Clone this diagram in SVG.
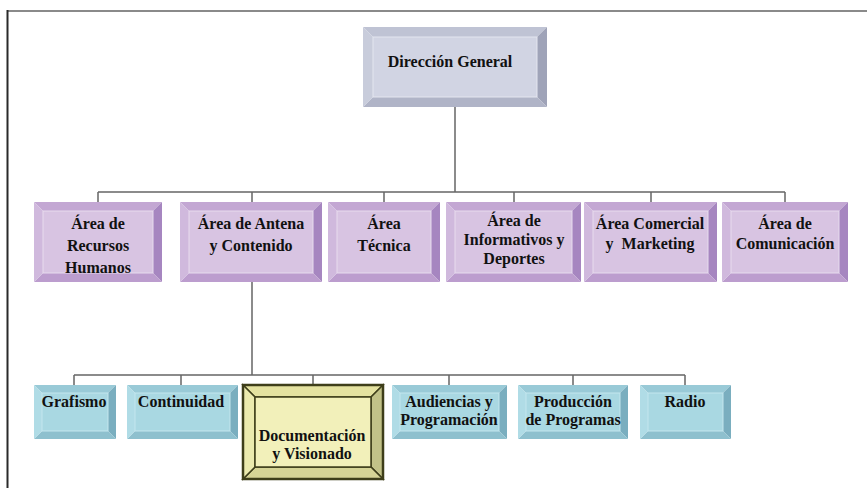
<svg xmlns="http://www.w3.org/2000/svg" width="867" height="488" viewBox="0 0 867 488">
<style>
.t{font-family:"Liberation Serif","Times New Roman",serif;font-weight:bold;font-size:16px;fill:#111;text-anchor:middle}
.c{stroke:#666;stroke-width:1.5;fill:none}
.gT{fill:#bfc3d4}.gR{fill:#9fa3b8}.gB{fill:#b0b4c7}.gL{fill:#c8ccdb}.gF{fill:#d1d4e3;stroke:#e4e6ef;stroke-width:1}
.pT{fill:#c3a7d3}.pR{fill:#a686c0}.pB{fill:#bc9dce}.pL{fill:#d0b9dd}.pF{fill:#d8c4e2;stroke:#e7dcee;stroke-width:1}
.bT{fill:#99cad7}.bR{fill:#7aaebf}.bB{fill:#8ec0ce}.bL{fill:#b0dce6}.bF{fill:#a9d8e2;stroke:#c4e6ee;stroke-width:1}
.yT{fill:#e4e2a0;stroke:#3e3e1a;stroke-width:1.5}.yR{fill:#c2c288;stroke:#3e3e1a;stroke-width:1.5}.yB{fill:#d6d496;stroke:#3e3e1a;stroke-width:1.5}.yL{fill:#ebeaae;stroke:#3e3e1a;stroke-width:1.5}.yF{fill:#f2f0ba;stroke:#3e3e1a;stroke-width:1.5}
</style>
<rect x="0" y="0" width="867" height="488" fill="#ffffff"/>
<g id="frame">
<line x1="7" y1="11" x2="867" y2="11" stroke="#8a8a8a" stroke-width="2"/>
<line x1="7.5" y1="10" x2="7.5" y2="488" stroke="#2a2a2a" stroke-width="2"/>
</g>
<g id="connectors">
<path class="c" d="M455 107V192M98 192H785M98 192V202M252 192V202M384 192V202M514 192V202M651 192V202M785 192V202"/>
<path class="c" d="M252 282V375M74 375H685M74 375V385M181 375V385M313 375V385M449 375V385M573 375V385M685 375V385"/>
</g>
<g id="direccion-general">
<polygon class="gT" points="363,27 547,27 537,37 373,37"/>
<polygon class="gR" points="547,27 547,107 537,97 537,37"/>
<polygon class="gB" points="363,107 547,107 537,97 373,97"/>
<polygon class="gL" points="363,27 363,107 373,97 373,37"/>
<rect class="gF" x="373" y="37" width="164" height="60"/>
<text class="t" x="450" y="67">Dirección General</text>
</g>
<g id="recursos-humanos">
<polygon class="pT" points="34,202 162,202 153,211 43,211"/>
<polygon class="pR" points="162,202 162,282 153,273 153,211"/>
<polygon class="pB" points="34,282 162,282 153,273 43,273"/>
<polygon class="pL" points="34,202 34,282 43,273 43,211"/>
<rect class="pF" x="43" y="211" width="110" height="62"/>
<text class="t" x="98" y="229">Área de</text>
<text class="t" x="98" y="251">Recursos</text>
<text class="t" x="98" y="273">Humanos</text>
</g>
<g id="antena-contenido">
<polygon class="pT" points="180,202 322,202 313,211 189,211"/>
<polygon class="pR" points="322,202 322,282 313,273 313,211"/>
<polygon class="pB" points="180,282 322,282 313,273 189,273"/>
<polygon class="pL" points="180,202 180,282 189,273 189,211"/>
<rect class="pF" x="189" y="211" width="124" height="62"/>
<text class="t" x="251" y="229">Área de Antena</text>
<text class="t" x="251" y="251">y Contenido</text>
</g>
<g id="tecnica">
<polygon class="pT" points="328,202 440,202 431,211 337,211"/>
<polygon class="pR" points="440,202 440,282 431,273 431,211"/>
<polygon class="pB" points="328,282 440,282 431,273 337,273"/>
<polygon class="pL" points="328,202 328,282 337,273 337,211"/>
<rect class="pF" x="337" y="211" width="94" height="62"/>
<text class="t" x="384" y="229">Área</text>
<text class="t" x="384" y="251">Técnica</text>
</g>
<g id="informativos-deportes">
<polygon class="pT" points="446,202 581,202 572,211 455,211"/>
<polygon class="pR" points="581,202 581,282 572,273 572,211"/>
<polygon class="pB" points="446,282 581,282 572,273 455,273"/>
<polygon class="pL" points="446,202 446,282 455,273 455,211"/>
<rect class="pF" x="455" y="211" width="117" height="62"/>
<text class="t" x="514" y="226">Área de</text>
<text class="t" x="514" y="245">Informativos y</text>
<text class="t" x="514" y="264">Deportes</text>
</g>
<g id="comercial-marketing">
<polygon class="pT" points="584,202 717,202 708,211 593,211"/>
<polygon class="pR" points="717,202 717,282 708,273 708,211"/>
<polygon class="pB" points="584,282 717,282 708,273 593,273"/>
<polygon class="pL" points="584,202 584,282 593,273 593,211"/>
<rect class="pF" x="593" y="211" width="115" height="62"/>
<text class="t" x="650" y="229">Área Comercial</text>
<text class="t" x="650" y="249" xml:space="preserve">y  Marketing</text>
</g>
<g id="comunicacion">
<polygon class="pT" points="722,202 848,202 839,211 731,211"/>
<polygon class="pR" points="848,202 848,282 839,273 839,211"/>
<polygon class="pB" points="722,282 848,282 839,273 731,273"/>
<polygon class="pL" points="722,202 722,282 731,273 731,211"/>
<rect class="pF" x="731" y="211" width="108" height="62"/>
<text class="t" x="785" y="229">Área de</text>
<text class="t" x="785" y="249">Comunicación</text>
</g>
<g id="grafismo">
<polygon class="bT" points="34,385 116,385 108,393 42,393"/>
<polygon class="bR" points="116,385 116,439 108,431 108,393"/>
<polygon class="bB" points="34,439 116,439 108,431 42,431"/>
<polygon class="bL" points="34,385 34,439 42,431 42,393"/>
<rect class="bF" x="42" y="393" width="66" height="38"/>
<text class="t" x="74" y="407">Grafismo</text>
</g>
<g id="continuidad">
<polygon class="bT" points="127,385 238,385 230,393 135,393"/>
<polygon class="bR" points="238,385 238,439 230,431 230,393"/>
<polygon class="bB" points="127,439 238,439 230,431 135,431"/>
<polygon class="bL" points="127,385 127,439 135,431 135,393"/>
<rect class="bF" x="135" y="393" width="95" height="38"/>
<text class="t" x="181" y="407">Continuidad</text>
</g>
<g id="documentacion-visionado">
<polygon class="yT" points="243,385 383,385 371,397 255,397"/>
<polygon class="yR" points="383,385 383,479 371,467 371,397"/>
<polygon class="yB" points="243,479 383,479 371,467 255,467"/>
<polygon class="yL" points="243,385 243,479 255,467 255,397"/>
<rect class="yF" x="255" y="397" width="116" height="70"/>
<rect x="243" y="385" width="140" height="94" fill="none" stroke="#3e3e1a" stroke-width="2.5"/>
<text class="t" x="312" y="441">Documentación</text>
<text class="t" x="312" y="459">y Visionado</text>
</g>
<g id="audiencias-programacion">
<polygon class="bT" points="392,385 507,385 499,393 400,393"/>
<polygon class="bR" points="507,385 507,439 499,431 499,393"/>
<polygon class="bB" points="392,439 507,439 499,431 400,431"/>
<polygon class="bL" points="392,385 392,439 400,431 400,393"/>
<rect class="bF" x="400" y="393" width="99" height="38"/>
<text class="t" x="449" y="407">Audiencias y</text>
<text class="t" x="449" y="425">Programación</text>
</g>
<g id="produccion-programas">
<polygon class="bT" points="518,385 628,385 620,393 526,393"/>
<polygon class="bR" points="628,385 628,439 620,431 620,393"/>
<polygon class="bB" points="518,439 628,439 620,431 526,431"/>
<polygon class="bL" points="518,385 518,439 526,431 526,393"/>
<rect class="bF" x="526" y="393" width="94" height="38"/>
<text class="t" x="573" y="407">Producción</text>
<text class="t" x="573" y="425">de Programas</text>
</g>
<g id="radio">
<polygon class="bT" points="640,385 731,385 723,393 648,393"/>
<polygon class="bR" points="731,385 731,439 723,431 723,393"/>
<polygon class="bB" points="640,439 731,439 723,431 648,431"/>
<polygon class="bL" points="640,385 640,439 648,431 648,393"/>
<rect class="bF" x="648" y="393" width="75" height="38"/>
<text class="t" x="685" y="407">Radio</text>
</g>
</svg>
